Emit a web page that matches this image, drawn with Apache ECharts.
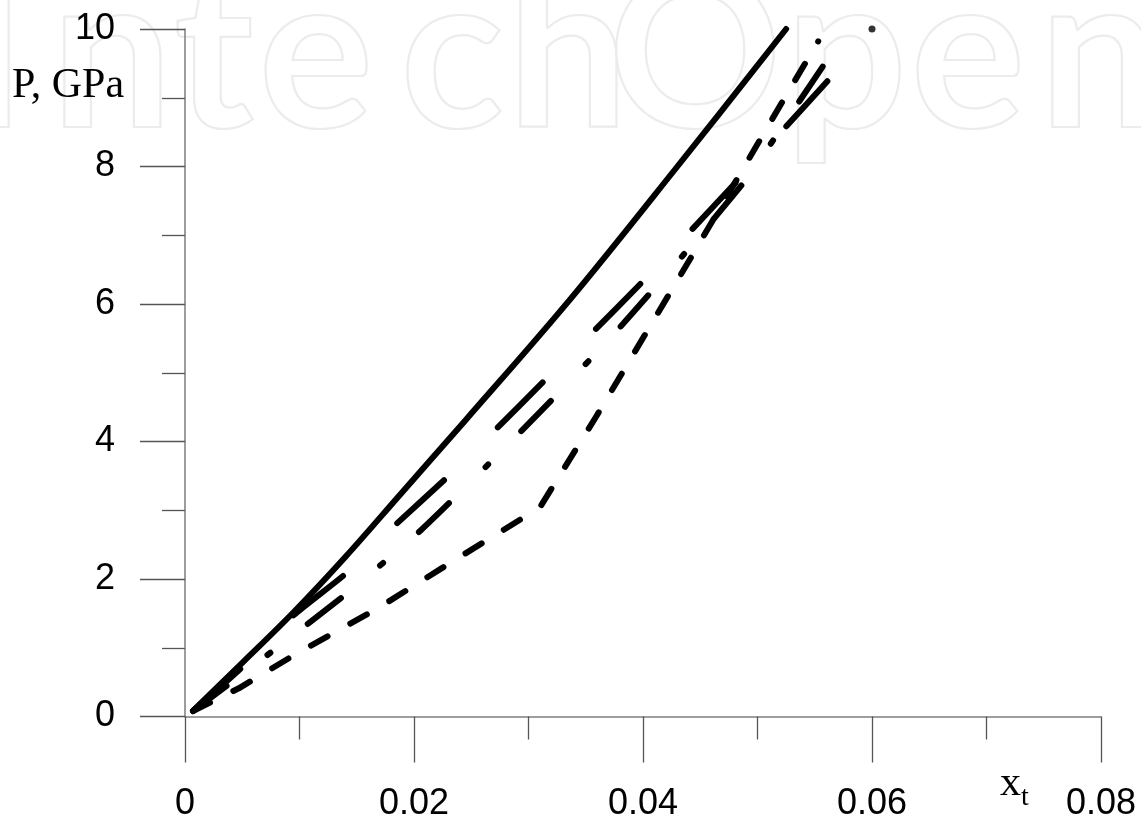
<!DOCTYPE html>
<html>
<head>
<meta charset="utf-8">
<script src="https://cdn.jsdelivr.net/npm/echarts@6/dist/echarts.min.js"></script>
<style>
html,body{margin:0;padding:0;background:#fff;}
#chart{width:1141px;height:826px;}
</style>
</head>
<body>
<div id="chart"></div>
<script>
// ---- data (x = x_t, y = P in GPa) ----
const xTickValues = [0, 0.02, 0.04, 0.06, 0.08];
const yTickValues = [0, 2, 4, 6, 8, 10];
const xAxisTitle = 'x';
const xAxisTitleSub = 't';
const yAxisTitle = 'P, GPa';
const watermarkLetters = ['I','n','t','e','c','h','O','p','e','n'];

const solidLine = [[0.0008,0.10],[0.0050,0.78],[0.0095,1.52],[0.0140,2.32],[0.0188,3.23],[0.0245,4.31],[0.0336,6.06],[0.0430,8.00],[0.0525,10.0]];
const longDashLine = [[0.0007,0.08],[0.0054,0.78],[0.0094,1.46],[0.0142,2.10],[0.0182,2.76],[0.0229,3.48],[0.0271,4.17],[0.0313,4.87],[0.0356,5.59],[0.0397,6.28],[0.0438,7.00],[0.0480,7.75],[0.0520,8.49],[0.0561,9.24]];
const dashDotLine = [[0.0007,0.08],[0.0074,0.92],[0.0142,1.80],[0.0206,2.71],[0.0265,3.67],[0.0323,4.65],[0.0383,5.72],[0.0435,6.71],[0.0491,7.83],[0.0514,8.39],[0.0560,9.53]];
const shortDashLine = [[0.0007,0.08],[0.0047,0.41],[0.0099,0.93],[0.0169,1.58],[0.0236,2.28],[0.0304,2.98],[0.0311,3.07],[0.0359,4.36],[0.0441,6.65],[0.0522,8.95],[0.0553,9.82]];
const loosePoint = [[0.0600,10.0]];

// ---- chart ----
const chart = echarts.init(document.getElementById('chart'), null, {renderer:'canvas'});
const axisCol = '#7d7d7d';
const tickCol = '#555';
const labelFont = {color:'#000', fontFamily:'"Liberation Sans", Arial, sans-serif', fontSize:36};

const wmX = [-6, 112, 214, 316, 452, 568, 695, 846, 968, 1100];
const graphics = watermarkLetters.map((ch, i) => ({
  type:'text', x: wmX[i], y: 58, z: -10, silent:true,
  style:{text:ch, font:'bold 215px Lato, "Open Sans", sans-serif', fill:'rgba(0,0,0,0)', stroke:'#ececec', lineWidth:2.2, align:'center', verticalAlign:'middle'}
}));
graphics.push(
  {type:'text', x:12, y:86, z:10, style:{text:yAxisTitle, font:'42px "Liberation Serif", "Times New Roman", serif', fill:'#000', align:'left', verticalAlign:'middle'}},
  {type:'text', x:1000, y:784, z:10, style:{text:xAxisTitle, font:'42px "Liberation Serif", "Times New Roman", serif', fill:'#000', align:'left', verticalAlign:'middle'}},
  {type:'text', x:1021, y:798, z:10, style:{text:xAxisTitleSub, font:'28px "Liberation Serif", "Times New Roman", serif', fill:'#000', align:'left', verticalAlign:'middle'}}
);

function lineSeries(data, type, smooth){
  return {type:'line', data:data, symbol:'none', showSymbol:false, smooth:smooth, z:5, clip:false,
    lineStyle:{color:'#000', width:6, type:type, cap:'round', join:'round'}};
}

chart.setOption({
  animation:false,
  backgroundColor:'#fff',
  grid:{left:185, right:40, top:29, bottom:109.5, containLabel:false},
  xAxis:{type:'value', min:0, max:0.08, interval:0.02,
    axisLine:{show:true, onZero:false, lineStyle:{color:axisCol, width:1.5}},
    axisTick:{show:true, length:46, lineStyle:{color:tickCol, width:1.3}},
    minorTick:{show:true, splitNumber:2, length:23, lineStyle:{color:tickCol, width:1.3}},
    splitLine:{show:false},
    axisLabel:Object.assign({margin:70, formatter:v => (xTickValues.indexOf(+v.toFixed(2))>=0 ? (v===0?'0':v.toFixed(2)) : '')}, labelFont)
  },
  yAxis:{type:'value', min:0, max:10, interval:2,
    axisLine:{show:true, onZero:false, lineStyle:{color:axisCol, width:1.5}},
    axisTick:{show:true, length:45, lineStyle:{color:tickCol, width:1.3}},
    minorTick:{show:true, splitNumber:2, length:23, lineStyle:{color:tickCol, width:1.3}},
    splitLine:{show:false},
    axisLabel:Object.assign({margin:70, formatter:v => (yTickValues.indexOf(v)>=0 ? String(v) : '')}, labelFont)
  },
  graphic:graphics,
  series:[
    lineSeries(solidLine, 'solid', 0.35),
    lineSeries(longDashLine, [63, 76], 0.2),
    lineSeries(dashDotLine, [42, 51, 4, 47], 0.2),
    lineSeries(shortDashLine, [19, 26], false),
    {type:'scatter', data:loosePoint, symbol:'circle', symbolSize:7, itemStyle:{color:'#000'}, z:5}
  ]
});
</script>
</body>
</html>
